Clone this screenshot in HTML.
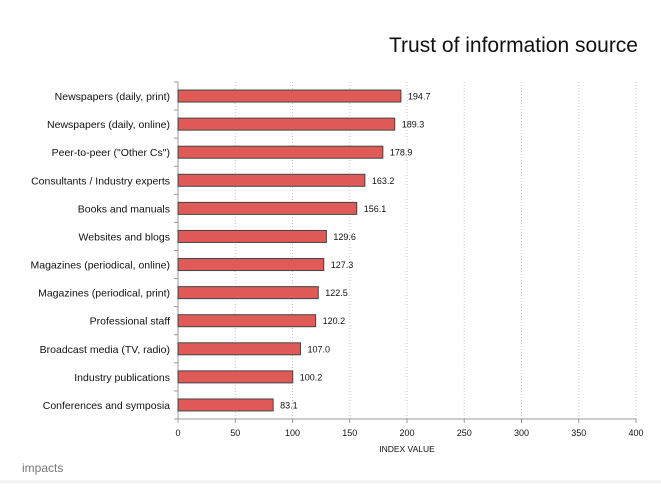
<!DOCTYPE html>
<html><head><meta charset="utf-8"><style>
body{margin:0;background:#fff;width:661px;height:483px;overflow:hidden;font-family:"Liberation Sans",sans-serif}
</style></head><body>
<svg width="661" height="483">
<text x="638" y="52" text-anchor="end" font-size="21" fill="#111">Trust of information source</text>
<g id="grid"></g><g id="bars"></g>
<text x="407" y="452" text-anchor="middle" font-size="8.5" fill="#111">INDEX VALUE</text>
<text x="22" y="472" font-size="12" fill="#777">impacts</text>
<rect x="0" y="480" width="661" height="3" fill="#f2f2f2"></rect>
</svg>
<script>
const categories=["Newspapers (daily, print)","Newspapers (daily, online)","Peer-to-peer (\"Other Cs\")","Consultants / Industry experts","Books and manuals","Websites and blogs","Magazines (periodical, online)","Magazines (periodical, print)","Professional staff","Broadcast media (TV, radio)","Industry publications","Conferences and symposia"];
const values=[194.7,189.3,178.9,163.2,156.1,129.6,127.3,122.5,120.2,107.0,100.2,83.1];
const ticks=[0,50,100,150,200,250,300,350,400];
const NS="http://www.w3.org/2000/svg";
const x0=178,x1=636,plotTop=82,plotBottom=419;
const xs=v=>x0+(v/400)*(x1-x0);
const band=(plotBottom-plotTop)/categories.length;
function mk(t,a,p){const e=document.createElementNS(NS,t);for(const k in a)e.setAttribute(k,a[k]);p.appendChild(e);return e;}
const g=document.getElementById('grid'),b=document.getElementById('bars');
ticks.forEach(t=>{
 if(t>0){const l=mk('line',{x1:xs(t),x2:xs(t),y1:plotTop,y2:plotBottom,stroke:'#c8c8c8','stroke-dasharray':'1,2'},g);
 
 }
 const tk=mk('line',{x1:xs(t),x2:xs(t),y1:plotBottom,y2:plotBottom+4,stroke:'#999'},g);
 
 
 const tx=mk('text',{x:xs(t),y:436,'text-anchor':'middle','font-size':'9',fill:'#111'},g);tx.textContent=t;
 
 
});
const ax=mk('line',{x1:x0,x2:x0,y1:plotTop,y2:plotBottom,stroke:'#999'},g);


const bx=mk('line',{x1:x0-4,x2:x1,y1:plotBottom,y2:plotBottom,stroke:'#999'},g);


categories.forEach((c,i)=>{
 const cy=plotTop+band*(i+0.5);
 const yt=mk('line',{x1:x0-4,x2:x0,y1:plotTop+band*i,y2:plotTop+band*i,stroke:'#999'},g);
 
 
 const r=mk('rect',{x:x0,y:cy-6,width:xs(values[i])-x0,height:12,fill:'#e05a57',stroke:'#444','stroke-width':1},b);
 
 
 const lb=mk('text',{x:x0-8,y:cy+4,'text-anchor':'end','font-size':'10.5',fill:'#111'},b);lb.textContent=c;
 
 
 const vl=mk('text',{x:xs(values[i])+7,y:cy+3.5,'font-size':'9',fill:'#111'},b);vl.textContent=values[i].toFixed(1);
 
 
});
</script>
</body></html>
